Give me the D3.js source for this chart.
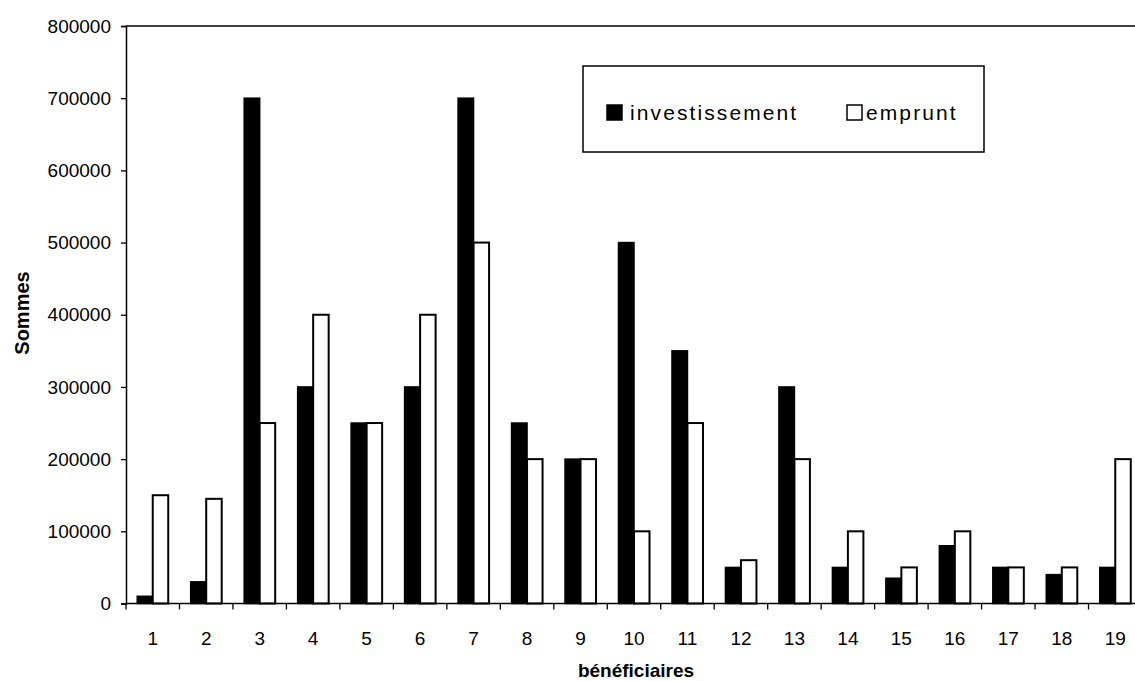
<!DOCTYPE html>
<html>
<head>
<meta charset="utf-8">
<script src="https://cdn.jsdelivr.net/npm/d3@7"></script>
<style>
  html, body { margin: 0; padding: 0; background: #fff; }
  svg { display: block; font-family: "Liberation Sans", Arial, sans-serif; }
</style>
</head>
<body>
<svg id="chart" width="1135" height="681"></svg>
<script>
// Beneficiary numbers and the amounts per beneficiary
const categories = ["1","2","3","4","5","6","7","8","9","10","11","12","13","14","15","16","17","18","19"];
const investissement = [10000, 30000, 700000, 300000, 250000, 300000, 700000, 250000, 200000, 500000, 350000, 50000, 300000, 50000, 35000, 80000, 50000, 40000, 50000];
const emprunt = [150000, 145000, 250000, 400000, 250000, 400000, 500000, 200000, 200000, 100000, 250000, 60000, 200000, 100000, 50000, 100000, 50000, 50000, 200000];
const yTicks = [0, 100000, 200000, 300000, 400000, 500000, 600000, 700000, 800000];
const seriesNames = ["investissement", "emprunt"];

const svg = d3.select("#chart");
const W = 1135;
const plot = { left: 126, right: 1142, top: 26, bottom: 603.5 };

const x = d3.scaleBand().domain(categories).range([plot.left, plot.right]).padding(0);
const y = d3.scaleLinear().domain([0, 800000]).range([plot.bottom, plot.top]);
const barW = x.bandwidth() / 3.45;

// top border of the plot area
svg.append("line")
  .attr("x1", plot.left).attr("x2", W)
  .attr("y1", plot.top).attr("y2", plot.top)
  .attr("stroke", "#000").attr("stroke-width", 1.3);

// bars
const g = svg.append("g");
categories.forEach((c, i) => {
  const cx = x(c) + x.bandwidth() / 2;
  g.append("rect")
    .attr("x", cx - barW).attr("width", barW)
    .attr("y", y(investissement[i])).attr("height", y(0) - y(investissement[i]))
    .attr("fill", "#000").attr("stroke", "#000").attr("stroke-width", 1.5);
  g.append("rect")
    .attr("x", cx).attr("width", barW)
    .attr("y", y(emprunt[i])).attr("height", y(0) - y(emprunt[i]))
    .attr("fill", "#fff").attr("stroke", "#000").attr("stroke-width", 2);
});

// y axis
const yAxis = svg.append("g")
  .attr("transform", `translate(${plot.left},0)`)
  .call(d3.axisLeft(y).tickValues(yTicks).tickSize(5).tickPadding(10).tickFormat(d3.format("d")));
yAxis.select(".domain").attr("stroke", "#000").attr("stroke-width", 1.5);
yAxis.selectAll(".tick line").attr("stroke", "#000").attr("stroke-width", 1.3);
yAxis.selectAll("text").attr("font-size", 19).attr("fill", "#000")
  .attr("font-family", "Liberation Sans, Arial, sans-serif");

// x axis: ticks between categories
const xAxis = svg.append("g")
  .attr("transform", `translate(0,${plot.bottom})`);
xAxis.append("line")
  .attr("x1", plot.left).attr("x2", W)
  .attr("y1", 0).attr("y2", 0)
  .attr("stroke", "#000").attr("stroke-width", 1.5);
categories.forEach((c) => {
  xAxis.append("line")
    .attr("x1", x(c)).attr("x2", x(c))
    .attr("y1", 0).attr("y2", 6)
    .attr("stroke", "#000").attr("stroke-width", 1.3);
  xAxis.append("text")
    .attr("x", x(c) + x.bandwidth() / 2)
    .attr("y", 41)
    .attr("text-anchor", "middle")
    .attr("font-size", 19)
    .text(c);
});

// axis titles
svg.append("text")
  .attr("x", 636).attr("y", 677)
  .attr("text-anchor", "middle")
  .attr("font-size", 19).attr("font-weight", "bold")
  .text("bénéficiaires");
svg.append("text")
  .attr("transform", "translate(29,313) rotate(-90)")
  .attr("text-anchor", "middle")
  .attr("font-size", 20).attr("font-weight", "bold")
  .text("Sommes");

// legend
const lg = svg.append("g");
lg.append("rect")
  .attr("x", 583).attr("y", 66).attr("width", 401).attr("height", 86)
  .attr("fill", "#fff").attr("stroke", "#000").attr("stroke-width", 1.5);
const legendItems = [
  { name: seriesNames[0], fill: "#000", sx: 607, tx: 630 },
  { name: seriesNames[1], fill: "#fff", sx: 847, tx: 866 }
];
legendItems.forEach(d => {
  lg.append("rect")
    .attr("x", d.sx).attr("y", 105).attr("width", 15).attr("height", 15)
    .attr("fill", d.fill).attr("stroke", "#000").attr("stroke-width", 1.5);
  lg.append("text")
    .attr("x", d.tx).attr("y", 120)
    .attr("font-size", 21)
    .attr("letter-spacing", 2.1)
    .text(d.name);
});
</script>
</body>
</html>
